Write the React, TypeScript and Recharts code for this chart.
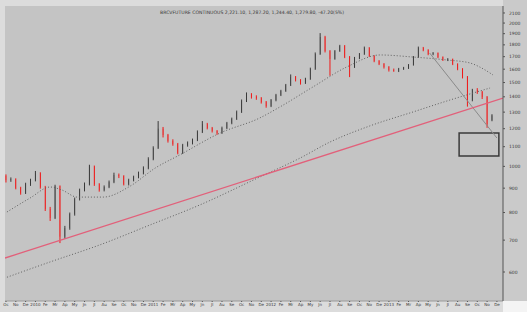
import { ComposedChart, Bar, Line, XAxis, YAxis, CartesianGrid, ReferenceArea } from "recharts"

// candle values (left to right)
const opens = [
  955, 936, 940, 901, 879, 918, 936, 968, 905, 814, 779, 909, 712, 742, 794, 854, 892, 918, 1000, 918,
  892, 905, 927, 959, 954, 918, 936, 950, 968, 992, 1036, 1093, 1200, 1164, 1131, 1114, 1067, 1109, 1120, 1136,
  1181, 1227, 1204, 1187, 1175, 1204, 1233, 1258, 1301, 1372, 1419, 1399, 1392, 1365, 1339, 1378, 1412, 1440, 1482, 1541,
  1519, 1497, 1526, 1602, 1722, 1870, 1747, 1681, 1747, 1790, 1697, 1617, 1689, 1722, 1773, 1706, 1665, 1641, 1617, 1594,
  1588, 1602, 1609, 1633, 1697, 1773, 1756, 1722, 1730, 1697, 1673, 1680, 1641, 1602, 1541, 1378, 1447, 1433, 1399, 1250,
]
const closes = [
  936, 940, 901, 879, 918, 936, 968, 905, 814, 779, 909, 712, 742, 794, 854, 892, 918, 1000, 918, 892,
  905, 927, 959, 954, 918, 936, 950, 968, 992, 1036, 1093, 1200, 1164, 1131, 1114, 1067, 1109, 1120, 1136, 1181,
  1227, 1204, 1187, 1175, 1204, 1233, 1258, 1301, 1372, 1419, 1399, 1392, 1365, 1339, 1378, 1412, 1440, 1482, 1541, 1519,
  1497, 1526, 1602, 1722, 1870, 1747, 1681, 1747, 1790, 1697, 1617, 1689, 1722, 1773, 1706, 1665, 1641, 1617, 1594, 1588,
  1602, 1609, 1633, 1697, 1773, 1756, 1722, 1730, 1697, 1673, 1680, 1641, 1602, 1541, 1378, 1447, 1433, 1399, 1227, 1280,
]
const highs = [
  962, 948, 944, 906, 924, 942, 978, 972, 910, 822, 915, 912, 750, 800, 860, 898, 925, 1008, 1004, 922,
  912, 934, 970, 966, 958, 942, 956, 975, 1000, 1045, 1102, 1245, 1210, 1170, 1140, 1120, 1115, 1128, 1144, 1190,
  1245, 1234, 1210, 1192, 1212, 1240, 1266, 1310, 1382, 1430, 1425, 1410, 1398, 1372, 1385, 1420, 1448, 1490, 1560, 1548,
  1525, 1535, 1612, 1735, 1905, 1880, 1755, 1755, 1800, 1798, 1705, 1698, 1730, 1785, 1780, 1712, 1672, 1648, 1624, 1605,
  1610, 1618, 1640, 1705, 1785, 1782, 1762, 1738, 1735, 1702, 1688, 1684, 1646, 1608, 1548, 1455, 1460, 1440, 1405, 1287,
]
const lows = [
  925, 928, 895, 872, 875, 910, 930, 898, 806, 768, 775, 690, 705, 736, 788, 848, 886, 912, 910, 885,
  886, 900, 922, 945, 912, 912, 930, 944, 962, 986, 1030, 1088, 1150, 1122, 1105, 1060, 1062, 1100, 1112, 1130,
  1175, 1196, 1178, 1165, 1170, 1198, 1226, 1252, 1295, 1365, 1388, 1380, 1355, 1328, 1332, 1370, 1405, 1434, 1475, 1508,
  1485, 1490, 1520, 1595, 1715, 1735, 1550, 1675, 1740, 1688, 1540, 1610, 1680, 1715, 1698, 1655, 1632, 1605, 1582, 1580,
  1578, 1595, 1602, 1628, 1690, 1745, 1712, 1712, 1688, 1665, 1664, 1632, 1592, 1530, 1335, 1370, 1420, 1385, 1205, 1244,
]

// dotted moving averages, [candle index, price]
const midAverage = [
  [0.2, 802], [4.9, 858], [9.0, 905], [11.4, 892], [14.5, 862], [19.8, 862], [25.3, 909], [30.4, 992],
  [35.4, 1057], [43.6, 1175], [51.7, 1264], [55.8, 1333], [62.5, 1468], [69.4, 1617], [76.2, 1714],
  [82.9, 1697], [89.8, 1673], [94.5, 1649], [96.5, 1617], [99.2, 1556],
]
const longAverage = [
  [0.2, 585], [9.0, 630], [19.1, 684], [29.3, 753], [39.5, 830], [51.7, 950], [59.9, 1041],
  [66.0, 1125], [74.1, 1216], [82.9, 1301], [90.4, 1378], [98.6, 1461],
]

// drawn trend lines and box
const supportLine = [[-0.2, 642], [101.24, 1392]]
const fallLine = [[86.3, 1730], [100, 1147]]
const boxRange = [92.3, 100.4, 1051, 1175]

const priceTicks = [600, 700, 800, 900, 1000, 1100, 1200, 1300, 1400, 1500, 1600, 1700, 1800, 1900, 2000, 2100]
const monthLabels = [
  "Oc", "No", "De", "2010", "Fe", "Mr", "Ap", "My", "Jn", "Jl", "Au", "Se", "Oc", "No", "De",
  "2011", "Fe", "Mr", "Ap", "My", "Jn", "Jl", "Au", "Se", "Oc", "No", "De",
  "2012", "Fe", "Mr", "Ap", "My", "Jn", "Jl", "Au", "Se", "Oc", "No", "De",
  "2013", "Fe", "Mr", "Ap", "My", "Jn", "Jl", "Au", "Se", "Oc", "No", "De",
]
const title = "BRCVFUTURE CONTINUOUS 2,221.10, 1,287.20, 1,244.40, 1,279.80, -47.20(5%)"

const candles = closes.map((close, i) => ({
  i,
  open: opens[i],
  high: highs[i],
  low: lows[i],
  close,
  range: [lows[i], highs[i]],
}))

const toPoints = (pts: number[][]) => pts.map(([i, v]) => ({ i, v }))

function Candle(props: any) {
  const { x, width, payload } = props
  let { y, height } = props
  if (height < 0) {
    y = y + height
    height = -height
  }
  const { open, close, high, low } = payload
  const up = close >= open
  const color = up ? "#3a3a3a" : "#f01818"
  // log scale: position inside the high-low span
  const at = (v: number) =>
    y + (height * (Math.log(high) - Math.log(v))) / (Math.log(high) - Math.log(low))
  const cx = x + width / 2
  const top = at(Math.max(open, close))
  const bottom = at(Math.min(open, close))
  return (
    <g>
      <line x1={cx} x2={cx} y1={y} y2={y + height} stroke={color} strokeWidth={1} />
      <rect x={x} y={top} width={width} height={Math.max(bottom - top, 1)} fill={color} />
    </g>
  )
}

export default function App() {
  return (
    <div style={{ position: "absolute", left: 0, top: 0, width: 527, height: 312, background: "#dcdcdc" }}>
      <div style={{ position: "absolute", left: 503, top: 0, width: 24, height: 301, background: "#cacaca" }} />
      <div style={{ position: "absolute", left: 503, top: 301, width: 24, height: 11, background: "#f4f4f4" }} />
      <ComposedChart
        width={527}
        height={312}
        data={candles}
        margin={{ top: 6, right: 0, left: 5, bottom: 1 }}
        style={{ position: "absolute", left: 0, top: 0 }}
      >
        <CartesianGrid fill="#c4c4c4" horizontal={false} vertical={false} />
        <XAxis
          dataKey="i"
          type="number"
          domain={[-0.2, 101.24]}
          allowDataOverflow
          ticks={monthLabels.map((_, k) => k * 2)}
          tickFormatter={(v: number) => monthLabels[Math.round(v / 2)] ?? ""}
          interval={0}
          height={10}
          tickSize={1}
          tickMargin={1}
          tick={{ fontSize: 4, fill: "#3a3a3a", fontFamily: "DejaVu Sans" }}
          axisLine={{ stroke: "#9a9a9a" }}
          tickLine={{ stroke: "#555" }}
        />
        <YAxis
          orientation="right"
          scale="log"
          domain={[521.5, 2172]}
          allowDataOverflow
          ticks={priceTicks}
          interval={0}
          width={24}
          tickSize={2}
          tickMargin={4}
          tick={{ fontSize: 4.5, fill: "#3a3a3a", fontFamily: "DejaVu Sans" }}
          axisLine={{ stroke: "#555" }}
          tickLine={{ stroke: "#555" }}
        />
        <Line
          data={toPoints(longAverage)}
          dataKey="v"
          type="monotone"
          stroke="#606060"
          strokeWidth={1}
          strokeDasharray="1 2"
          dot={false}
          isAnimationActive={false}
        />
        <Line
          data={toPoints(midAverage)}
          dataKey="v"
          type="monotone"
          stroke="#606060"
          strokeWidth={1}
          strokeDasharray="1 2"
          dot={false}
          isAnimationActive={false}
        />
        <Line
          data={toPoints(fallLine)}
          dataKey="v"
          type="linear"
          stroke="#8a8a8a"
          strokeWidth={1}
          dot={false}
          isAnimationActive={false}
        />
        <Line
          data={toPoints(supportLine)}
          dataKey="v"
          type="linear"
          stroke="#e2607a"
          strokeWidth={1.3}
          dot={false}
          isAnimationActive={false}
        />
        <Bar dataKey="range" barSize={4} shape={<Candle />} isAnimationActive={false} />
        <ReferenceArea
          x1={boxRange[0]}
          x2={boxRange[1]}
          y1={boxRange[2]}
          y2={boxRange[3]}
          fill="none"
          fillOpacity={0}
          stroke="#3a3a3a"
          strokeWidth={1.5}
          ifOverflow="visible"
        />
      </ComposedChart>
      <svg width={527} height={20} style={{ position: "absolute", left: 0, top: 0 }}>
        <text x={252} y={14} textAnchor="middle" fontSize={4.6} fill="#3a3a3a" fontFamily="DejaVu Sans">
          {title}
        </text>
      </svg>
    </div>
  )
}
